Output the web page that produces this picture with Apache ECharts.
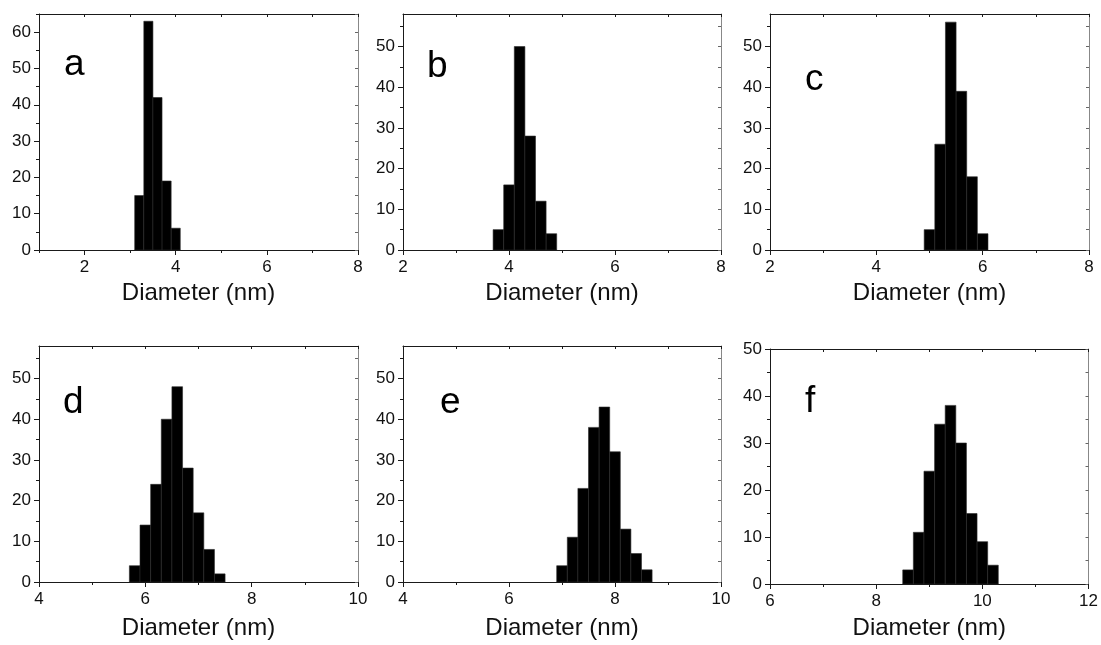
<!DOCTYPE html>
<html>
<head>
<meta charset="utf-8">
<script src="https://cdn.jsdelivr.net/npm/echarts@6/dist/echarts.min.js"></script>
<style>
html,body{margin:0;padding:0;background:#fff;}
#chart{width:1101px;height:645px;}
</style>
</head>
<body>
<div id="chart"></div>
<script>
// ---- data ----
const panelLetters = ['a', 'b', 'c', 'd', 'e', 'f'];
const xTitle = 'Diameter (nm)';

const edgesA = [3.1, 3.3, 3.5, 3.7, 3.9, 4.1];
const countsA = [15, 63, 42, 19, 6];
const edgesB = [3.7, 3.9, 4.1, 4.3, 4.5, 4.7, 4.9];
const countsB = [5, 16, 50, 28, 12, 4];
const edgesC = [4.9, 5.1, 5.3, 5.5, 5.7, 5.9, 6.1];
const countsC = [5, 26, 56, 39, 18, 4];
const edgesD = [5.7, 5.9, 6.1, 6.3, 6.5, 6.7, 6.9, 7.1, 7.3, 7.5];
const countsD = [4, 14, 24, 40, 48, 28, 17, 8, 2];
const edgesE = [6.9, 7.1, 7.3, 7.5, 7.7, 7.9, 8.1, 8.3, 8.5, 8.7];
const countsE = [4, 11, 23, 38, 43, 32, 13, 7, 3];
const edgesF = [8.5, 8.7, 8.9, 9.1, 9.3, 9.5, 9.7, 9.9, 10.1, 10.3];
const countsF = [3, 11, 24, 34, 38, 30, 15, 9, 4];

const xRangeA = [1, 8], xRangeB = [2, 8], xRangeC = [2, 8];
const xRangeD = [4, 10], xRangeE = [4, 10], xRangeF = [6, 12];
const yRangeA = [0, 65], yRangeB = [0, 58], yRangeC = [0, 58];
const yRangeD = [0, 58], yRangeE = [0, 58], yRangeF = [0, 50];

const xTicksA = [2, 4, 6, 8], xMinorA = [1, 3, 5, 7];
const xTicksB = [2, 4, 6, 8], xMinorB = [3, 5, 7];
const xTicksC = [2, 4, 6, 8], xMinorC = [3, 5, 7];
const xTicksD = [4, 6, 8, 10], xMinorD = [5, 7, 9];
const xTicksE = [4, 6, 8, 10], xMinorE = [5, 7, 9];
const xTicksF = [6, 8, 10, 12], xMinorF = [7, 9, 11];

const yTicksA = [0, 10, 20, 30, 40, 50, 60], yMinorA = [5, 15, 25, 35, 45, 55, 65];
const yTicks50 = [0, 10, 20, 30, 40, 50], yMinor55 = [5, 15, 25, 35, 45, 55];
const yMinor45 = [5, 15, 25, 35, 45];

// ---- layout / style ----
const panels = [
  {edges: edgesA, counts: countsA, xr: xRangeA, yr: yRangeA, xt: xTicksA, xm: xMinorA, yt: yTicksA, ym: yMinorA,
   grid: {left: 39, top: 14, width: 319, height: 236}, label: [64, 65], nameGap: 31},
  {edges: edgesB, counts: countsB, xr: xRangeB, yr: yRangeB, xt: xTicksB, xm: xMinorB, yt: yTicks50, ym: yMinor55,
   grid: {left: 403, top: 14, width: 318, height: 236}, label: [427, 67], nameGap: 31},
  {edges: edgesC, counts: countsC, xr: xRangeC, yr: yRangeC, xt: xTicksC, xm: xMinorC, yt: yTicks50, ym: yMinor55,
   grid: {left: 770, top: 14, width: 319, height: 236}, label: [805, 80], nameGap: 31},
  {edges: edgesD, counts: countsD, xr: xRangeD, yr: yRangeD, xt: xTicksD, xm: xMinorD, yt: yTicks50, ym: yMinor55,
   grid: {left: 39, top: 346, width: 319, height: 236}, label: [63, 403], nameGap: 34},
  {edges: edgesE, counts: countsE, xr: xRangeE, yr: yRangeE, xt: xTicksE, xm: xMinorE, yt: yTicks50, ym: yMinor55,
   grid: {left: 403, top: 346, width: 318, height: 236}, label: [440, 403], nameGap: 34},
  {edges: edgesF, counts: countsF, xr: xRangeF, yr: yRangeF, xt: xTicksF, xm: xMinorF, yt: yTicks50, ym: yMinor45,
   grid: {left: 770, top: 349, width: 319, height: 235}, label: [805, 402], nameGap: 32}
];

const FONT = '"Liberation Sans", Arial, Helvetica, sans-serif';
const dark = '#1a1a1a';
const grids = [], xAxes = [], yAxes = [], series = [], graphics = [];

panels.forEach((p, i) => {
  grids.push(Object.assign({containLabel: false}, p.grid));
  const base = {gridIndex: i, type: 'value', splitLine: {show: false}};
  xAxes.push(Object.assign({}, base, {
    min: p.xr[0], max: p.xr[1], position: 'bottom',
    axisLine: {show: true, onZero: false, lineStyle: {color: dark, width: 1}},
    axisTick: {show: true, inside: false, length: 5, customValues: p.xt, lineStyle: {color: dark}},
    axisLabel: {show: true, customValues: p.xt, margin: 9, color: '#111', fontSize: 17, fontFamily: FONT},
    name: xTitle, nameLocation: 'middle', nameGap: p.nameGap,
    nameTextStyle: {fontSize: 24, color: '#111', fontFamily: FONT}
  }));
  xAxes.push(Object.assign({}, base, {
    min: p.xr[0], max: p.xr[1], position: 'bottom',
    axisLine: {show: false, onZero: false},
    axisTick: {show: true, inside: false, length: 3, customValues: p.xm, lineStyle: {color: dark}},
    axisLabel: {show: false}
  }));
  xAxes.push(Object.assign({}, base, {
    min: p.xr[0], max: p.xr[1], position: 'top',
    axisLine: {show: true, onZero: false, lineStyle: {color: dark, width: 1}},
    axisTick: {show: true, inside: true, length: 3, customValues: p.xt.concat(p.xm), lineStyle: {color: dark}},
    axisLabel: {show: false}
  }));
  yAxes.push(Object.assign({}, base, {
    min: p.yr[0], max: p.yr[1], position: 'left',
    axisLine: {show: true, onZero: false, lineStyle: {color: dark, width: 1}},
    axisTick: {show: true, inside: false, length: 5, customValues: p.yt, lineStyle: {color: dark}},
    axisLabel: {show: true, customValues: p.yt, margin: 8, color: '#111', fontSize: 17, fontFamily: FONT}
  }));
  yAxes.push(Object.assign({}, base, {
    min: p.yr[0], max: p.yr[1], position: 'left',
    axisLine: {show: false, onZero: false},
    axisTick: {show: true, inside: false, length: 3, customValues: p.ym, lineStyle: {color: dark}},
    axisLabel: {show: false}
  }));
  yAxes.push(Object.assign({}, base, {
    min: p.yr[0], max: p.yr[1], position: 'right',
    axisLine: {show: true, onZero: false, lineStyle: {color: '#888', width: 1}},
    axisTick: {show: true, inside: true, length: 3, customValues: p.yt.concat(p.ym), lineStyle: {color: '#666'}},
    axisLabel: {show: false}
  }));

  const data = p.counts.map((c, k) => [p.edges[k], p.edges[k + 1], c]);
  series.push({
    type: 'custom',
    xAxisIndex: i * 3,
    yAxisIndex: i * 3,
    data: data,
    encode: {x: [0, 1], y: 2},
    clip: true,
    renderItem: function (params, api) {
      const p0 = api.coord([api.value(0), api.value(2)]);
      const p1 = api.coord([api.value(1), 0]);
      return {
        type: 'rect',
        shape: {x: p0[0], y: p0[1], width: p1[0] - p0[0], height: p1[1] - p0[1]},
        style: {fill: '#000', stroke: '#2a2a2a', lineWidth: 0.6}
      };
    }
  });

  graphics.push({
    type: 'text', x: p.label[0], y: p.label[1],
    style: {text: panelLetters[i], fontSize: 37, fontFamily: FONT, fill: '#000', verticalAlign: 'middle', align: 'left'}
  });
});

const chart = echarts.init(document.getElementById('chart'), null, {renderer: 'canvas'});
chart.setOption({
  backgroundColor: '#fff',
  animation: false,
  grid: grids,
  xAxis: xAxes,
  yAxis: yAxes,
  series: series,
  graphic: graphics
});
</script>
</body>
</html>
